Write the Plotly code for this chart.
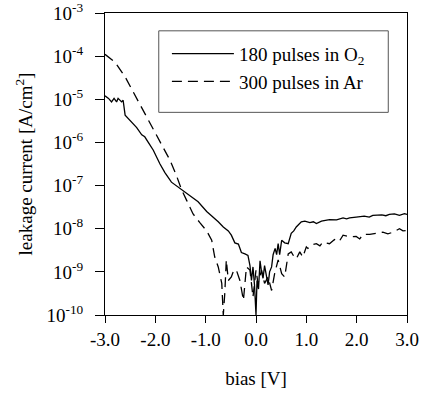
import plotly.graph_objects as go

# ---- data ----
bias_o2 = [-3.00, -2.93, -2.87, -2.82, -2.77, -2.74, -2.67, -2.64, -2.60, -2.50,
           -2.37, -2.27, -2.21, -2.14, -2.04, -1.91, -1.81, -1.68, -1.48, -1.30,
           -1.15, -0.98, -0.85, -0.75, -0.65, -0.55, -0.49, -0.42, -0.35, -0.29,
           -0.22, -0.16, -0.12, -0.09, -0.06, -0.03, 0.00, 0.02, 0.05, 0.08,
           0.11, 0.14, 0.17, 0.21, 0.24, 0.27, 0.31, 0.34, 0.38, 0.41,
           0.44, 0.47, 0.51, 0.57, 0.64, 0.70, 0.75, 0.80, 0.90, 0.97,
           1.07, 1.14, 1.20, 1.30, 1.38, 1.46, 1.60, 1.73, 1.80, 1.86,
           1.99, 2.15, 2.25, 2.32, 2.50, 2.58, 2.65, 2.75, 2.85, 2.95, 3.00]
current_o2 = [1.2e-5, 1.05e-5, 8.7e-6, 1.05e-5, 8.7e-6, 1.05e-5, 8.7e-6, 9.5e-6, 4.3e-6, 3.2e-6,
              2.2e-6, 1.5e-6, 1.35e-6, 1.0e-6, 6.6e-7, 3.2e-7, 2.0e-7, 1.2e-7, 8.1e-8, 5.8e-8,
              4.2e-8, 2.5e-8, 1.85e-8, 1.45e-8, 1.1e-8, 8.9e-9, 7.1e-9, 4.7e-9, 4.4e-9, 2.8e-9,
              2.6e-9, 2.4e-9, 1.4e-9, 6.3e-10, 1.3e-9, 5.0e-10, 1.0e-10, 6.3e-10, 4.0e-10, 1.8e-9,
              1.0e-9, 7.1e-10, 1.4e-9, 7.9e-10, 5.0e-10, 1.0e-9, 1.3e-9, 2.5e-9, 3.5e-9, 2.5e-9,
              4.5e-9, 2.5e-9, 5.4e-9, 4.7e-9, 4.5e-9, 7.8e-9, 8.9e-9, 1.1e-8, 1.45e-8, 1.5e-8,
              1.38e-8, 1.45e-8, 1.32e-8, 1.5e-8, 1.55e-8, 1.62e-8, 1.6e-8, 1.78e-8, 1.7e-8, 1.78e-8,
              1.86e-8, 1.95e-8, 1.85e-8, 2.04e-8, 2.1e-8, 2.0e-8, 2.14e-8, 2.2e-8, 2.04e-8, 2.24e-8, 2.14e-8]

bias_ar = [-3.00, -2.80, -2.60, -2.44, -2.24, -2.07, -1.88, -1.71, -1.58, -1.48,
           -1.38, -1.25, -1.12, -0.98, -0.88, -0.82, -0.75, -0.68, -0.65, -0.62,
           -0.59, -0.55, -0.49, -0.44, -0.39, -0.32, -0.25, -0.19, -0.12, -0.06,
           0.00, 0.04, 0.11, 0.17, 0.24, 0.31, 0.37, 0.44, 0.51, 0.57,
           0.64, 0.70, 0.76, 0.80, 0.87, 0.93, 1.00, 1.03, 1.10, 1.20,
           1.27, 1.33, 1.46, 1.56, 1.65, 1.73, 1.86, 1.99, 2.06, 2.13,
           2.26, 2.39, 2.52, 2.62, 2.72, 2.85, 2.92, 3.00]
current_ar = [1.1e-4, 7.2e-5, 3.3e-5, 1.5e-5, 5.5e-6, 2.3e-6, 8.9e-7, 3.9e-7, 1.7e-7, 8.1e-8,
              4.6e-8, 2.2e-8, 1.4e-8, 8.9e-9, 5.4e-9, 2.2e-9, 1.3e-9, 5.4e-10, 1.0e-10, 3.2e-10,
              1.9e-9, 6.3e-10, 7.6e-10, 1.1e-9, 1.1e-9, 6.3e-10, 2.2e-10, 1.3e-9, 1.1e-9, 2.6e-10,
              1.1e-9, 5.4e-10, 1.1e-9, 5.4e-10, 7.6e-10, 3.7e-10, 9.1e-10, 1.9e-9, 9.1e-10, 7.6e-10,
              2.6e-9, 2.9e-9, 2.2e-9, 2.0e-9, 2.9e-9, 2.2e-9, 3.8e-9, 3.5e-9, 4.2e-9, 4.5e-9,
              4.0e-9, 4.9e-9, 4.5e-9, 5.6e-9, 5.0e-9, 7.1e-9, 6.5e-9, 6.6e-9, 5.8e-9, 7.4e-9,
              7.4e-9, 7.9e-9, 8.3e-9, 7.6e-9, 8.3e-9, 1.0e-8, 8.9e-9, 9.1e-9]

x_ticks = [-3.0, -2.0, -1.0, 0.0, 1.0, 2.0, 3.0]
x_ticktext = ["-3.0", "-2.0", "-1.0", "0.0", "1.0", "2.0", "3.0"]
y_ticks = [1e-10, 1e-9, 1e-8, 1e-7, 1e-6, 1e-5, 1e-4, 1e-3]
y_ticktext = ["10<sup>-10</sup>", "10<sup>-9</sup>", "10<sup>-8</sup>", "10<sup>-7</sup>",
              "10<sup>-6</sup>", "10<sup>-5</sup>", "10<sup>-4</sup>", "10<sup>-3</sup>"]
series_names = ["180 pulses in O<sub>2</sub>", "300 pulses in Ar"]

FONT = "Liberation Serif, Times New Roman, serif"

fig = go.Figure()
fig.add_trace(go.Scatter(x=bias_o2, y=current_o2, mode="lines", name=series_names[0],
                         line=dict(color="black", width=1.3)))
fig.add_trace(go.Scatter(x=bias_ar, y=current_ar, mode="lines", name=series_names[1],
                         line=dict(color="black", width=1.3, dash="10px,6px")))

# legend frame (paper coordinates)
fig.add_shape(type="rect", xref="paper", yref="paper",
              x0=0.178, x1=0.938, y0=0.671, y1=0.941,
              line=dict(color="#555", width=1), fillcolor="rgba(0,0,0,0)", layer="above")

fig.update_layout(
    width=421, height=400,
    margin=dict(l=105, r=14, t=13, b=85),
    paper_bgcolor="white", plot_bgcolor="white",
    font=dict(family=FONT, size=19, color="black"),
    showlegend=True,
    legend=dict(x=0.205, y=0.928, xanchor="left", yanchor="top",
                borderwidth=0, bgcolor="rgba(0,0,0,0)",
                font=dict(family=FONT, size=19, color="black"),
                tracegroupgap=0, itemwidth=62),
    xaxis=dict(range=[-3, 3], tickvals=x_ticks, ticktext=x_ticktext, automargin=False,
               showline=True, linecolor="black", linewidth=1, mirror=True,
               ticks="outside", ticklen=7, tickcolor="black", showgrid=False, zeroline=False,
               tickfont=dict(size=19), ticklabeloverflow="allow",
               title=dict(text="bias [V]", standoff=22, font=dict(size=19))),
    yaxis=dict(type="log", range=[-10, -3], tickvals=y_ticks, ticktext=y_ticktext, automargin=False,
               showline=True, linecolor="black", linewidth=1, mirror=True,
               ticks="outside", ticklen=9, tickcolor="black", showgrid=False, zeroline=False,
               tickfont=dict(size=19), ticklabelstandoff=8, ticklabeloverflow="allow",
               title=dict(text="leakage current [A/cm<sup>2</sup>]", standoff=8, font=dict(size=19))),
)

fig.write_html("out.html")
